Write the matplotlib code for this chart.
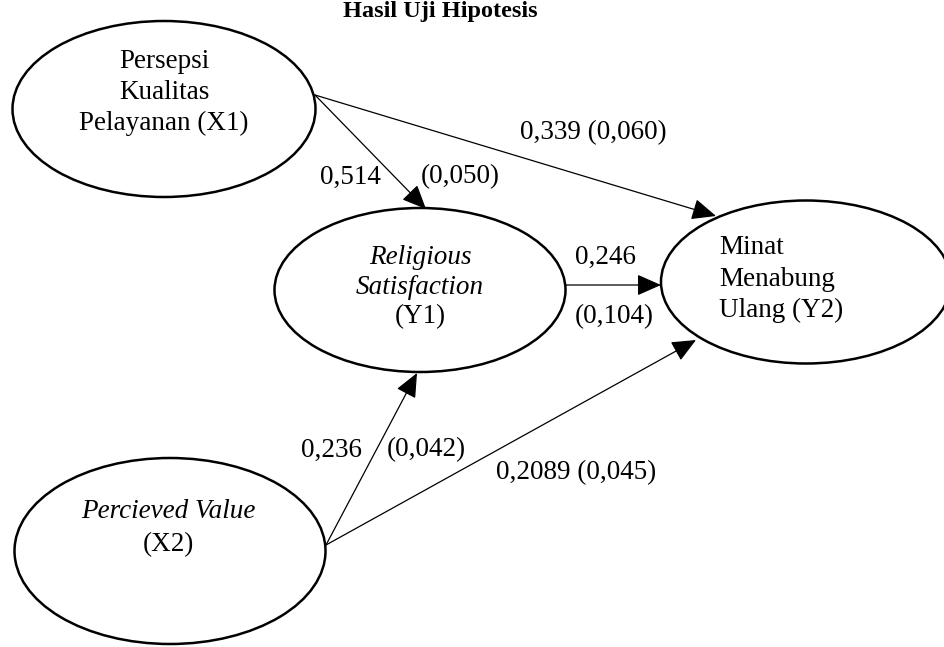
import matplotlib.pyplot as plt
from matplotlib.patches import Ellipse

# path coefficients and p-values of the structural model
paths = ["X1->Y1", "X1->Y2", "Y1->Y2", "X2->Y1", "X2->Y2"]
coefs = ["0,514", "0,339", "0,246", "0,236", "0,2089"]
pvals = ["(0,050)", "(0,060)", "(0,104)", "(0,042)", "(0,045)"]

node_ids = ["X1", "X2", "Y1", "Y2"]
node_lines = {
    "X1": ["Persepsi", "Kualitas", "Pelayanan (X1)"],
    "X2": ["Percieved Value", "(X2)"],
    "Y1": ["Religious", "Satisfaction", "(Y1)"],
    "Y2": ["Minat", "Menabung", "Ulang (Y2)"],
}
italic_lines = {"X2": [0], "Y1": [0, 1], "Y2": [], "X1": []}

# layout in pixels (image coordinates, y down)
ell = {  # cx, cy, w, h
    "X1": (164, 109, 303, 176),
    "X2": (170, 551, 311, 186),
    "Y1": (420, 290, 291, 164),
    "Y2": (806, 282, 290, 163),
}
text_pos = {  # x, first line y, line step, ha
    "X1": (164, 62, 30.5, "center"),
    "X2": (168, 512, 33, "center"),
    "Y1": (420, 257, 30, "center"),
    "Y2": (719, 248, 31, "left"),
}
arrow_pos = {
    "X1->Y1": ((315, 95), (426, 209)),
    "X1->Y2": ((315, 95), (716, 216)),
    "Y1->Y2": ((565, 285), (661, 285)),
    "X2->Y1": ((326, 545), (417, 373)),
    "X2->Y2": ((326, 545), (696, 340)),
}
label_pos = {  # coef pos, pval pos (None = same string line)
    "X1->Y1": ((350, 177), (460, 177)),
    "X1->Y2": ((593, 133), None),
    "Y1->Y2": ((606, 257), (614, 317)),
    "X2->Y1": ((331, 450), (426, 450)),
    "X2->Y2": ((576, 473), None),
}

plt.rcParams['font.family'] = ['Liberation Serif', 'DejaVu Serif']
fs = 19.5

fig = plt.figure(figsize=(9.45, 6.47), dpi=100)
ax = fig.add_axes([0, 0, 1, 1])
ax.set_xlim(0, 945)
ax.set_ylim(647, 0)
ax.axis('off')

ax.text(440, 12, "Hasil Uji Hipotesis", ha='center', va='center',
        fontsize=17.5, fontweight='bold')

for n in node_ids:
    cx, cy, w, h = ell[n]
    ax.add_patch(Ellipse((cx, cy), w, h, fill=False, ec='black', lw=1.8))
    x, y0, step, ha = text_pos[n]
    for i, line in enumerate(node_lines[n]):
        style = 'italic' if i in italic_lines[n] else 'normal'
        ax.text(x, y0 + i * step, line, ha=ha, va='center', fontsize=fs,
                style=style)

for p, c, pv in zip(paths, coefs, pvals):
    start, end = arrow_pos[p]
    ax.annotate("", xy=end, xytext=start,
                arrowprops=dict(arrowstyle='-|>,head_length=0.75,head_width=0.33',
                                mutation_scale=20, lw=0.9, color='black',
                                shrinkA=0, shrinkB=0))
    cpos, ppos = label_pos[p]
    if ppos is None:
        ax.text(cpos[0], cpos[1], c + " " + pv, ha='center', va='center', fontsize=fs)
    else:
        ax.text(cpos[0], cpos[1], c, ha='center', va='center', fontsize=fs)
        ax.text(ppos[0], ppos[1], pv, ha='center', va='center', fontsize=fs)

fig.savefig("out.png", dpi=100)
